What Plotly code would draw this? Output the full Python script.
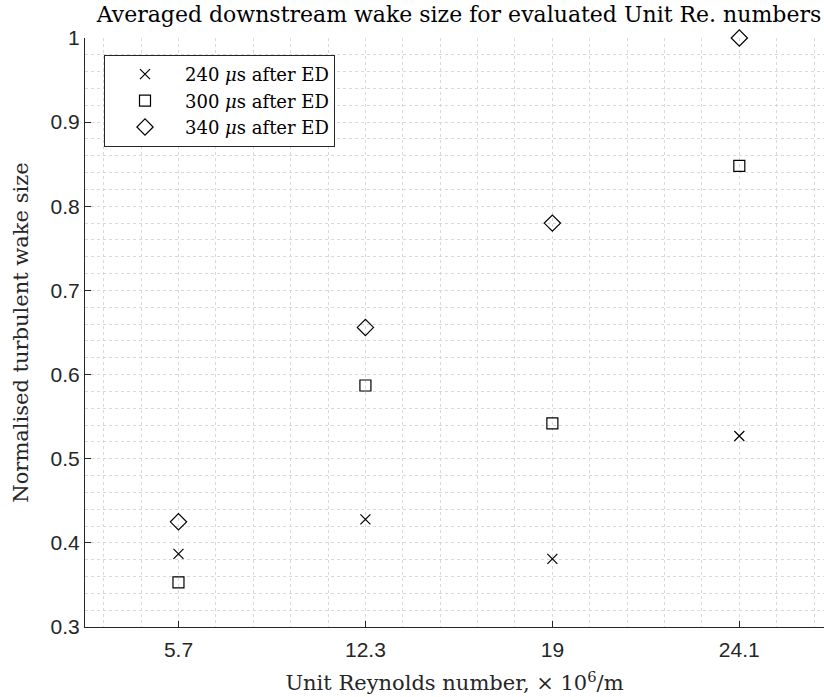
import plotly.graph_objects as go

categories = ["5.7", "12.3", "19", "24.1"]
cat_pos = [1, 2, 3, 4]
y_240 = [0.387, 0.428, 0.381, 0.527]
y_300 = [0.353, 0.587, 0.542, 0.848]
y_340 = [0.425, 0.656, 0.780, 1.000]

series_names = ["240 <i>μ</i>s after ED", "300 <i>μ</i>s after ED", "340 <i>μ</i>s after ED"]

serif = "DejaVu Serif"
sans = "Liberation Sans, Arial, sans-serif"
axcol = "#262626"
gridcol = "#d9d9d9"

fig = go.Figure()
fig.add_trace(go.Scatter(x=cat_pos, y=y_240, mode="markers", name=series_names[0],
                         marker=dict(symbol="x-thin-open", size=10, color="black",
                                     line=dict(color="black", width=1.2)),
                         cliponaxis=False))
fig.add_trace(go.Scatter(x=cat_pos, y=y_300, mode="markers", name=series_names[1],
                         marker=dict(symbol="square-open", size=11, color="black",
                                     line=dict(color="black", width=1.2)),
                         cliponaxis=False))
fig.add_trace(go.Scatter(x=cat_pos, y=y_340, mode="markers", name=series_names[2],
                         marker=dict(symbol="diamond-open", size=12.5, color="black",
                                     line=dict(color="black", width=1.2)),
                         cliponaxis=False))

fig.update_layout(
    width=824, height=697,
    margin=dict(l=85, r=0, t=38, b=70),
    paper_bgcolor="white", plot_bgcolor="white",
    title=dict(text="Averaged downstream wake size for evaluated Unit Re. numbers",
               x=459 / 824, xanchor="center", xref="container",
               y=1 - 14 / 697, yanchor="middle",
               font=dict(family=serif, size=22, color="black")),
    legend=dict(x=(104 - 85) / 739, y=1 - 17 / 589, xanchor="left", yanchor="top",
                bgcolor="white", bordercolor=axcol, borderwidth=1,
                font=dict(family=serif, size=18, color="black"),
                itemwidth=70),
    showlegend=True,
    hovermode=False,
)

fig.update_xaxes(
    range=[0.5, 4.453], tickmode="array", tickvals=cat_pos, ticktext=categories,
    automargin=False,
    showline=True, linecolor=axcol, linewidth=1, mirror=False,
    ticks="inside", ticklen=6, tickcolor=axcol, tickwidth=1,
    tickfont=dict(family=sans, size=21, color=axcol), ticklabelstandoff=4,
    showgrid=True, gridcolor=gridcol, griddash="dot", gridwidth=1,
    zeroline=False,
    minor=dict(dtick=0.2, tick0=0, showgrid=True, gridcolor=gridcol, griddash="dot",
               gridwidth=1, ticks=""),
    title=dict(text="Unit Reynolds number, × 10<sup>6</sup>/m",
               font=dict(family=serif, size=21, color=axcol), standoff=15),
)
fig.update_yaxes(
    range=[0.3, 1.0], tickmode="array",
    tickvals=[0.3, 0.4, 0.5, 0.6, 0.7, 0.8, 0.9, 1.0],
    ticktext=["0.3", "0.4", "0.5", "0.6", "0.7", "0.8", "0.9", "1"],
    automargin=False,
    showline=True, linecolor=axcol, linewidth=1, mirror=False,
    ticks="inside", ticklen=6, tickcolor=axcol, tickwidth=1,
    tickfont=dict(family=sans, size=21, color=axcol),
    showgrid=True, gridcolor=gridcol, griddash="dot", gridwidth=1,
    zeroline=False,
    minor=dict(dtick=0.02, tick0=0.3, showgrid=True, gridcolor=gridcol, griddash="dot",
               gridwidth=1, ticks=""),
    title=dict(text="Normalised turbulent wake size",
               font=dict(family=serif, size=21, color=axcol), standoff=16),
)

fig.write_html("out.html", config={"displayModeBar": False},
               post_script="document.body.style.margin='0';document.body.style.overflow='hidden';")
